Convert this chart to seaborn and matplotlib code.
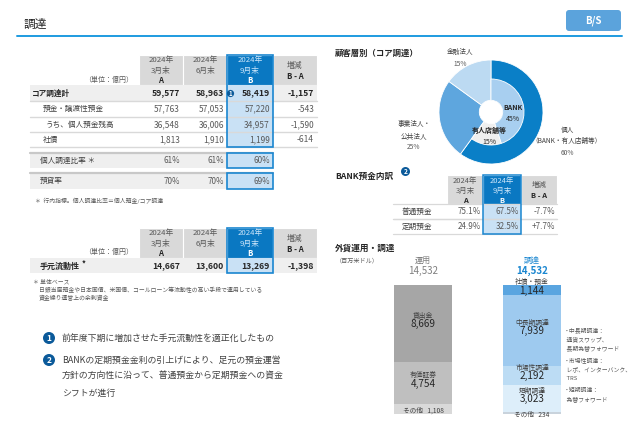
import matplotlib.pyplot as plt
import matplotlib.patches as mpatches
import seaborn as sns

# ---- data ----
head_lines = [['2024年', '3月末', 'A'], ['2024年', '6月末', ''], ['2024年', '9月末', 'B']]
diff_head = ['増減', 'B - A']

core_rows = ['コア調達計', '預金・譲渡性預金', 'うち、個人預金残高', '社債']
core_a = [59577, 57763, 36548, 1813]
core_jun = [58963, 57053, 36006, 1910]
core_b = [58419, 57220, 34957, 1199]
core_diff = [-1157, -543, -1590, -614]

ratio_rows = ['個人調達比率 ＊', '預貸率']
ratio_a = [61, 70]
ratio_jun = [61, 70]
ratio_b = [60, 69]

liq_row = '手元流動性'
liq_a = 14667
liq_jun = 13600
liq_b = 13269
liq_diff = -1398

bank_rows = ['普通預金', '定期預金']
bank_a = [75.1, 24.9]
bank_b = [67.5, 32.5]
bank_diff = [-7.7, 7.7]

outer_labels = ['個人', '事業法人・公共法人', '金融法人']
outer_share = [60, 25, 15]
inner_labels = ['BANK', '有人店舗等', 'その他']
inner_share = [45, 15, 40]

usage_labels = ['貸出金', '有価証券', 'その他']
usage_values = [8669, 4754, 1108]
fund_labels = ['社債・預金', '中長期調達', '市場性調達', '短期調達', 'その他']
fund_values = [1144, 7939, 2192, 3023, 234]
bar_names = ['運用', '調達']

notes = ['前年度下期に増加させた手元流動性を適正化したもの',
         'BANKの定期預金金利の引上げにより、足元の預金運営\n方針の方向性に沿って、普通預金から定期預金への資金\nシフトが進行']

# ---- style ----
sns.set_theme(style='white')
plt.rcParams['font.family'] = ['Noto Sans CJK JP', 'DejaVu Sans']

BLUE = '#0a78c2'
BORDER = '#1a86d0'
LIGHT = '#c9e1f5'
GREY_HEAD = '#d9d9d9'
ROW_BG = '#efefef'
TXT = '#404040'
NAVY = '#0b5a9a'

fig = plt.figure(figsize=(6.4, 4.43), dpi=100)

# donut
pax = fig.add_axes([(491 - 52) / 640, (443 - 164) / 443, 104 / 640, 104 / 443])
pax.pie(outer_share, radius=1, startangle=90, counterclock=False,
        colors=['#0a7fc7', '#5ea6de', '#bcdaf2'],
        wedgeprops=dict(width=0.775, edgecolor='white', linewidth=0.6))
inner, _ = pax.pie(inner_share, radius=0.635, startangle=90, counterclock=False,
                   colors=['#a8cff0', '#efefef', 'white'],
                   wedgeprops=dict(width=0.41, edgecolor='white', linewidth=0.6))
inner[2].set_visible(False)
pax.set_xlim(-1, 1)
pax.set_ylim(-1, 1)

# stacked bars (cumulative overlay)
bax = fig.add_axes([368.5 / 640, (443 - 414) / 443, 218 / 640, 129 / 443])
usage_colors = ['#a6a6a6', '#bfbfbf', '#d9d9d9']
fund_colors = ['#5aa5e0', '#9ecaef', '#bcdcf4', '#ddeefa', '#c9d3dc']
for name, vals, cols in [(bar_names[0], usage_values, usage_colors),
                         (bar_names[1], fund_values, fund_colors)]:
    for i in range(len(vals)):
        sns.barplot(x=[name], y=[sum(vals[i:])], order=bar_names, color=cols[i],
                    width=0.53, saturation=1, linewidth=0, errorbar=None, ax=bax)
bax.set_xlim(-0.5, 1.5)
bax.set_ylim(0, sum(fund_values))
bax.axis('off')

for xi, labels, vals in [(0, usage_labels, usage_values), (1, fund_labels, fund_values)]:
    for i, (lab, v) in enumerate(zip(labels, vals)):
        mid = sum(vals[i + 1:]) + v / 2
        if lab == 'その他':
            bax.annotate(f'{lab}   {v:,}', xy=(xi, mid), xytext=(0, -1), textcoords='offset points',
                         ha='center', va='center', fontsize=4.8, color=TXT)
        else:
            bax.annotate(lab, xy=(xi, mid), xytext=(0, 5.6), textcoords='offset points',
                         ha='center', va='center', fontsize=4.9, color=TXT)
            bax.annotate(f'{v:,}', xy=(xi, mid), xytext=(0, -0.6), textcoords='offset points',
                         ha='center', va='center', fontsize=7.2, color='#262626')
    tot = sum(vals)
    c = '#7f7f7f' if xi == 0 else '#1a86d0'
    bax.annotate(bar_names[xi], xy=(xi, tot), xytext=(0, 18), textcoords='offset points',
                 ha='center', va='center', fontsize=5.8, color=c)
    bax.annotate('14,532', xy=(xi, tot), xytext=(0, 10), textcoords='offset points',
                 ha='center', va='center', fontsize=7, color=c,
                 fontweight='normal' if xi == 0 else 'bold')

# overlay for slide texts and tables (pixel coordinates)
ov = fig.add_axes([0, 0, 1, 1])
ov.set_xlim(0, 640)
ov.set_ylim(443, 0)
ov.axis('off')


def rect(x0, y0, x1, y1, fc, ec='none', lw=0, z=1):
    ov.add_patch(mpatches.Rectangle((x0, y0), x1 - x0, y1 - y0, facecolor=fc,
                                    edgecolor=ec, linewidth=lw, zorder=z))


def txt(x, y, s, size=5.5, color=TXT, ha='left', weight='normal', va='center'):
    ov.text(x, y, s, fontsize=size, color=color, ha=ha, va=va, fontweight=weight, zorder=5)


def badge(x, y, n, r=4.2, size=4.6):
    ov.add_patch(mpatches.Circle((x, y), r, facecolor=NAVY, edgecolor='none', zorder=6))
    ov.text(x, y + 0.3, str(n), fontsize=size, color='white', ha='center', va='center',
            fontweight='bold', zorder=7)


def header(cols, top, bot, size=5.6):
    h = bot - top
    for i in range(3):
        fc = BLUE if i == 2 else GREY_HEAD
        rect(cols[i], top, cols[i + 1], bot, fc, ec='white', lw=0.8)
        c1 = '#cde6fa' if i == 2 else '#595959'
        c2 = 'white' if i == 2 else '#262626'
        cx = (cols[i] + cols[i + 1]) / 2
        lines = head_lines[i]
        txt(cx, top + h * 0.18, lines[0], size=size, color=c1, ha='center')
        txt(cx, top + h * 0.52, lines[1], size=size, color=c1, ha='center')
        if lines[2]:
            txt(cx, top + h * 0.86, lines[2], size=size, color=c2, ha='center', weight='bold')
    rect(cols[3], top, cols[4], bot, GREY_HEAD, ec='white', lw=0.8)
    cx = (cols[3] + cols[4]) / 2
    txt(cx, top + h * 0.35, diff_head[0], size=size, color='#595959', ha='center')
    txt(cx, top + h * 0.70, diff_head[1], size=size, color='#262626', ha='center', weight='bold')


# title bar
txt(24, 24, '調達', size=8.5, color='#262626')
ov.plot([17, 622], [36, 36], color='#1e9be0', lw=1.4, zorder=3)
ov.add_patch(mpatches.FancyBboxPatch((566, 10), 55, 21, boxstyle='round,pad=0,rounding_size=3',
                                     facecolor='#5ba3dc', edgecolor='none', zorder=3))
txt(593.5, 20.5, 'B/S', size=7, color='white', ha='center', weight='bold')

# ---- table 1 ----
cols = [139, 183, 227, 273, 317]
header(cols, 55, 85)
txt(133, 80, '（単位：億円）', size=5, color='#595959', ha='right')
edges = [85, 101, 117, 132, 147]
rect(30, 85, 317, 101, ROW_BG)
rect(227, 85, 273, 147, LIGHT)
label_x = [32, 43, 46, 43]
for r in range(4):
    y0, y1 = edges[r], edges[r + 1]
    ov.plot([30, 317], [y1, y1], color='#d9d9d9', lw=1, zorder=2)
    yc = (y0 + y1) / 2
    w = 'bold' if r == 0 else 'normal'
    c = '#262626' if r == 0 else '#595959'
    sz = 6.2 if r == 0 else 6.0
    txt(label_x[r], yc, core_rows[r], size=5.5, color='#262626' if r == 0 else TXT, weight=w)
    for j, v in enumerate([core_a[r], core_jun[r], core_b[r], core_diff[r]]):
        txt(cols[j + 1] - 3, yc, f'{v:,}', size=sz, color=c, ha='right', weight=w)
rect(227, 55, 273, 147, 'none', ec=BORDER, lw=1.2, z=4)
badge(230.5, 93.5, 1, r=3.6, size=4.3)

for r, (y0, y1) in enumerate([(153, 168), (173, 189)]):
    rect(30, y0, 273, y1, ROW_BG)
    ov.plot([30, 273], [y0, y0], color='#c8c8c8', lw=1.6, zorder=2)
    rect(227, y0, 273, y1, LIGHT, ec=BORDER, lw=1.2, z=4)
    yc = (y0 + y1) / 2
    txt(40, yc, ratio_rows[r], size=5.5)
    for j, v in enumerate([ratio_a[r], ratio_jun[r], ratio_b[r]]):
        txt(cols[j + 1] - 3, yc, f'{v}%', size=5.8, color='#595959', ha='right')
txt(35, 201, '＊  行内指標。個人調達比率＝個人預金/コア調達', size=4.2, color='#595959')

# ---- table 2 ----
header(cols, 228, 258)
txt(133, 252, '（単位：億円）', size=5, color='#595959', ha='right')
rect(30, 258, 317, 273, ROW_BG)
rect(227, 258, 273, 273, LIGHT)
rect(227, 228, 273, 273, 'none', ec=BORDER, lw=1.2, z=4)
txt(40, 266, liq_row, size=5.8, color='#262626', weight='bold')
txt(81.5, 264.5, '*', size=5.5, color='#262626', weight='bold')
for j, v in enumerate([liq_a, liq_jun, liq_b, liq_diff]):
    txt(cols[j + 1] - 3, 266, f'{v:,}', size=6.2, color='#262626', ha='right', weight='bold')
txt(33, 282, '＊ 単体ベース', size=4.2, color='#595959')
txt(39, 290, '日銀当座預金や日本国債、米国債、コールローン等流動性の高い手段で運用している', size=4.2, color='#595959')
txt(39, 297.5, '資金繰り運営上の余剰資金', size=4.2, color='#595959')

# notes
badge(49, 338, 1, r=6, size=6)
txt(62, 338, notes[0], size=6.4, color='#404040')
badge(49, 360, 2, r=6, size=6)
for k, line in enumerate(notes[1].split('\n')):
    txt(62, 360 + 16.5 * k, line, size=6.4, color='#404040')

# ---- right side ----
txt(335, 53, '顧客層別（コア調達）', size=6, color='#262626', weight='bold')
txt(460, 52, '金融法人', size=4.8, ha='center')
txt(460, 64, '15%', size=4.8, ha='center', color='#595959')
txt(414, 124, '事業法人・', size=4.8, ha='center')
txt(414, 136, '公共法人', size=4.8, ha='center')
txt(414, 147, '25%', size=4.8, ha='center', color='#595959')
txt(568, 130, '個人', size=4.8, ha='center')
txt(567, 141, '（BANK・有人店舗等）', size=4.8, ha='center')
txt(567, 153, '60%', size=4.8, ha='center', color='#595959')
txt(513, 107, 'BANK', size=5, ha='center', weight='bold', color='#262626')
txt(513, 118.5, '45%', size=5, ha='center', color='#262626')
txt(489, 130, '有人店舗等', size=5, ha='center', weight='bold', color='#262626')
txt(489, 142, '15%', size=5, ha='center', color='#262626')

# BANK deposit table
txt(335, 176, 'BANK預金内訳', size=6.2, color='#262626', weight='bold')
badge(405.5, 171.5, 2, r=4.5, size=4.8)
for i, (c0, c1) in enumerate([(447, 483), (483, 521), (521, 557)]):
    fc = BLUE if i == 1 else GREY_HEAD
    rect(c0, 175, c1, 204, fc, ec='white', lw=0.8)
    cx = (c0 + c1) / 2
    if i < 2:
        hl = head_lines[0] if i == 0 else head_lines[2]
        ca = '#cde6fa' if i == 1 else '#595959'
        cb = 'white' if i == 1 else '#262626'
        txt(cx, 180.5, hl[0], size=5.4, color=ca, ha='center')
        txt(cx, 190.5, hl[1], size=5.4, color=ca, ha='center')
        txt(cx, 200, hl[2], size=5.4, color=cb, ha='center', weight='bold')
    else:
        txt(cx, 185, diff_head[0], size=5.4, color='#595959', ha='center')
        txt(cx, 195, diff_head[1], size=5.4, color='#262626', ha='center', weight='bold')
rect(483, 204, 521, 234, LIGHT)
for r, (y0, y1) in enumerate([(204, 219), (219, 234)]):
    ov.plot([393, 557], [y0, y0], color='#d9d9d9', lw=0.9, zorder=2)
    ov.plot([393, 557], [y1, y1], color='#d9d9d9', lw=0.9, zorder=2)
    yc = (y0 + y1) / 2
    txt(402, yc, bank_rows[r], size=5.5)
    txt(481, yc, f'{bank_a[r]:.1f}%', size=5.8, color='#595959', ha='right')
    txt(519, yc, f'{bank_b[r]:.1f}%', size=5.8, color='#595959', ha='right')
    txt(555, yc, f'{bank_diff[r]:+.1f}%', size=5.8, color='#595959', ha='right')
rect(483, 175, 521, 234, 'none', ec=BORDER, lw=1.1, z=4)

# FX section
txt(335, 248, '外貨運用・調達', size=6.2, color='#262626', weight='bold')
txt(336, 260, '（百万米ドル）', size=4.4, color='#595959')
side_notes = [(330, '・中長期調達：'), (339, '  通貨スワップ、'), (348, '  長期為替フォワード'),
              (360, '・市場性調達：'), (369, '  レポ、インターバンク、'), (378, '  TRS'),
              (390, '・短期調達：'), (399, '  為替フォワード')]
for y, s in side_notes:
    txt(564, y, s, size=4.2, color='#595959')

fig.savefig('out.png', dpi=100)
